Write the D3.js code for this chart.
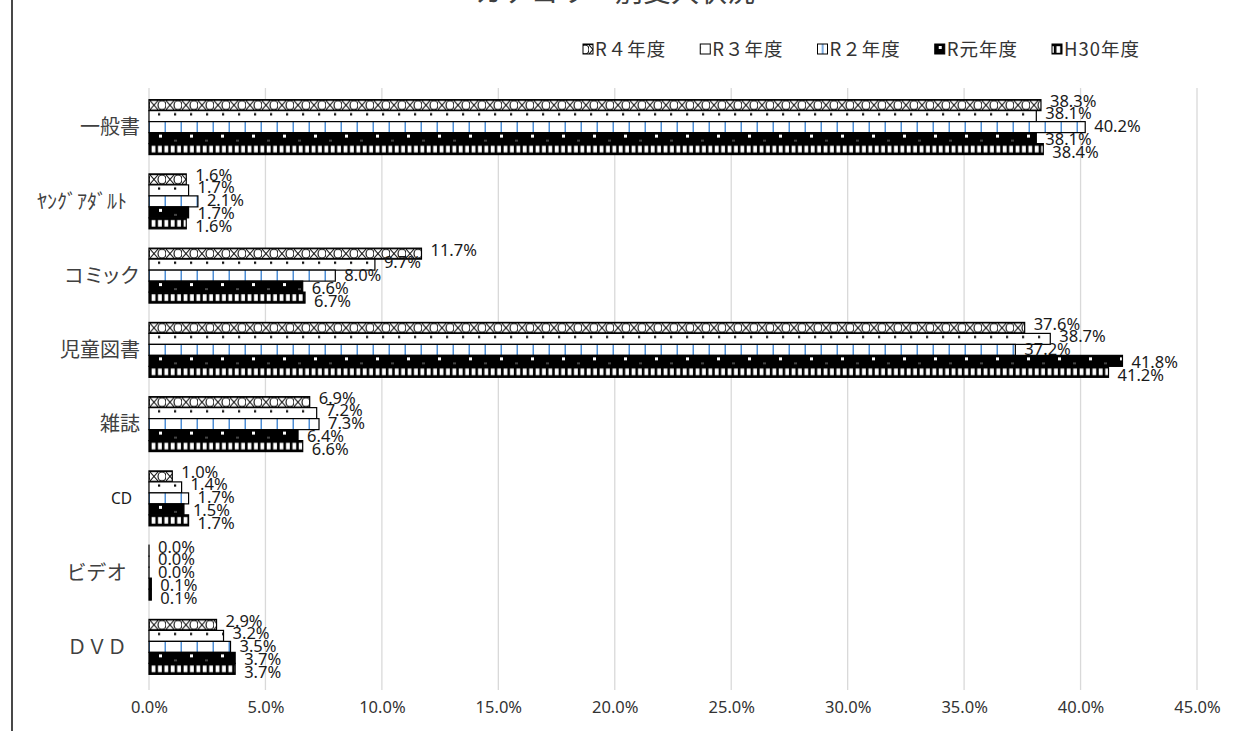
<!DOCTYPE html>
<html><head><meta charset="utf-8">
<script src="https://cdn.jsdelivr.net/npm/d3@7"></script>
<style>
body{margin:0;background:#fff;}
svg{display:block;}
.cjk{font-family:"Noto Sans CJK JP","Noto Sans",sans-serif;}
.num{font-family:"Noto Sans","Open Sans",sans-serif;}
.palt{font-feature-settings:"palt" 1;}
</style>
</head><body>
<svg id="chart" width="1233" height="731"></svg>
<script>
// ---- data ----
const categories = ["一般書", "ﾔﾝｸﾞｱﾀﾞﾙﾄ", "コミック", "児童図書", "雑誌", "CD", "ビデオ", "ＤＶＤ"];
const seriesNames = ["R４年度", "R３年度", "R２年度", "R元年度", "H30年度"];
const valuesR4  = [38.3, 1.6, 11.7, 37.6, 6.9, 1.0, 0.0, 2.9];
const valuesR3  = [38.1, 1.7,  9.7, 38.7, 7.2, 1.4, 0.0, 3.2];
const valuesR2  = [40.2, 2.1,  8.0, 37.2, 7.3, 1.7, 0.0, 3.5];
const valuesR1  = [38.1, 1.7,  6.6, 41.8, 6.4, 1.5, 0.1, 3.7];
const valuesH30 = [38.4, 1.6,  6.7, 41.2, 6.6, 1.7, 0.1, 3.7];
const tickValues = [0, 5, 10, 15, 20, 25, 30, 35, 40, 45];
const titleText = "カテゴリー別受入状況";

const seriesValues = [valuesR4, valuesR3, valuesR2, valuesR1, valuesH30];

// ---- layout ----
const svg = d3.select("#chart");
const plot = {left: 149, right: 1197, top: 88, bottom: 690};
const x = d3.scaleLinear().domain([0, 45]).range([plot.left, plot.right]);
const y0 = d3.scaleBand().domain(categories).range([90, 684]).paddingInner(0.26).paddingOuter(0.13);
const y1 = d3.scaleBand().domain(seriesNames).range([0, y0.bandwidth()]);
const bh = y1.bandwidth();
// vertical nudges for the value labels of each series (crowded labels spread apart)
const labelNudge = [-4, -3, -1, 1, 3];
// some category labels end a little short of the axis
const catInset = {"ﾔﾝｸﾞｱﾀﾞﾙﾄ": 13, "ビデオ": 13, "ＤＶＤ": 13, "CD": 8};
const proportional = new Set(["コミック", "ビデオ"]);

// ---- fill patterns ----
const defs = svg.append("defs");
function pattern(id, w, h, ox, build) {
  const p = defs.append("pattern").attr("id", id).attr("patternUnits", "userSpaceOnUse")
    .attr("x", ox).attr("y", 0).attr("width", w).attr("height", h);
  build(p);
}
const ox = x(0) + 1;
// R4: cross and ring
pattern("p0", 16, bh, ox, p => {
  p.append("rect").attr("width", 16).attr("height", bh).attr("fill", "#fff");
  p.append("path").attr("d", `M0,1 L8,${bh-1} M0,${bh-1} L8,1`).attr("stroke", "#000").attr("stroke-width", 1.1);
  p.append("ellipse").attr("cx", 12).attr("cy", bh/2).attr("rx", 4).attr("ry", bh/2-1).attr("fill", "#fff").attr("stroke", "#000").attr("stroke-width", 1.1);
  p.append("rect").attr("width", 16).attr("height", 1.2).attr("fill", "#000");
  p.append("rect").attr("y", bh-1.2).attr("width", 16).attr("height", 1.2).attr("fill", "#000");
});
// R3: sparse dots
pattern("p1", 16, bh, ox, p => {
  p.append("rect").attr("width", 16).attr("height", bh).attr("fill", "#fff");
  p.append("rect").attr("x", 8).attr("y", 2.5).attr("width", 2.2).attr("height", 2.2).attr("fill", "#000");
});
// R2: blue verticals
pattern("p2", 16, bh, ox, p => {
  p.append("rect").attr("width", 16).attr("height", bh).attr("fill", "#fff");
  p.append("rect").attr("x", 14.5).attr("y", 0).attr("width", 2.2).attr("height", bh).attr("fill", "#4f8fd6");
});
// R元: black with white squares
pattern("p3", 31, bh, ox, p => {
  p.append("rect").attr("width", 31).attr("height", bh).attr("fill", "#000");
  p.append("rect").attr("x", 9).attr("y", 2).attr("width", 3).attr("height", 3).attr("fill", "#fff");
  p.append("rect").attr("x", 24).attr("y", 7.5).attr("width", 3).attr("height", 1).attr("fill", "#888");
});
// H30: black with white slots
pattern("p4", 6.4, bh, ox, p => {
  p.append("rect").attr("width", 6.4).attr("height", bh).attr("fill", "#000");
  p.append("rect").attr("x", 1.6).attr("y", 2.2).attr("width", 3.8).attr("height", bh-4.4).attr("fill", "#fff");
});

// ---- frame line & title ----
svg.append("line").attr("x1", 12).attr("x2", 12).attr("y1", 0).attr("y2", 731)
  .attr("stroke", "#1a1a1a").attr("stroke-width", 1.6);
svg.append("text").attr("class", "cjk").attr("x", 615).attr("y", 2)
  .attr("text-anchor", "middle").attr("font-size", 28).attr("fill", "#404040").text(titleText);

// ---- gridlines ----
svg.append("g").selectAll("line").data(tickValues).join("line")
  .attr("x1", d => x(d)).attr("x2", d => x(d))
  .attr("y1", plot.top).attr("y2", plot.bottom)
  .attr("stroke", "#d9d9d9").attr("stroke-width", 1.3);

// ---- x axis ----
const xAxis = svg.append("g").attr("transform", `translate(0,${plot.bottom})`)
  .call(d3.axisBottom(x).tickValues(tickValues).tickSize(0).tickPadding(11).tickFormat(d => d.toFixed(1) + "%"));
xAxis.select(".domain").remove();
xAxis.selectAll("text").attr("class", "num").attr("font-size", 16.5).attr("fill", "#333");

// ---- category labels ----
svg.append("g").selectAll("text").data(categories).join("text")
  .attr("class", d => d === "CD" ? "num" : (proportional.has(d) ? "cjk palt" : "cjk"))
  .attr("x", d => 140 - (catInset[d] || 0))
  .attr("y", d => y0(d) + y0.bandwidth() / 2)
  .attr("dy", "0.36em")
  .attr("text-anchor", "end")
  .attr("font-size", d => d === "CD" ? 15.5 : 20)
  .attr("letter-spacing", d => proportional.has(d) ? 1.5 : 0)
  .attr("fill", d => d === "CD" ? "#1a1a1a" : "#404040")
  .text(d => d);

// ---- bars ----
const groups = svg.append("g").selectAll("g").data(categories).join("g")
  .attr("transform", d => `translate(0,${y0(d)})`);
groups.each(function(cat, ci) {
  const g = d3.select(this);
  seriesNames.forEach((s, si) => {
    const v = seriesValues[si][ci];
    const bar = g.append("g").attr("transform", `translate(0,${y1(s)})`);
    bar.append("rect")
      .attr("x", x(0)).attr("y", 0)
      .attr("width", Math.max(x(v) - x(0), 0.01)).attr("height", bh)
      .attr("fill", `url(#p${si})`)
      .attr("stroke", "#000").attr("stroke-width", 1.2);
    bar.append("text").attr("class", "num")
      .attr("x", x(v) + 9).attr("y", bh / 2 + labelNudge[si])
      .attr("dy", "0.36em").attr("font-size", 16.5).attr("fill", "#1a1a1a")
      .text(v.toFixed(1) + "%");
  });
});

// ---- legend ----
const legend = svg.append("g").attr("transform", "translate(583,49)");
let lx = 0;
seriesNames.forEach((s, si) => {
  const item = legend.append("g").attr("transform", `translate(${lx},0)`);
  item.append("g").attr("transform", "translate(0,-5)")
    .append("rect").attr("width", 10).attr("height", 10)
    .attr("fill", `url(#p${si})`).attr("stroke", "#000").attr("stroke-width", 1);
  const t = item.append("text").attr("class", "cjk").attr("x", 12).attr("dy", "0.36em")
    .attr("font-size", 18.5).attr("letter-spacing", 1).attr("fill", "#333").text(s);
  lx += 12 + t.node().getComputedTextLength() + 34;
});
</script>
</body></html>
